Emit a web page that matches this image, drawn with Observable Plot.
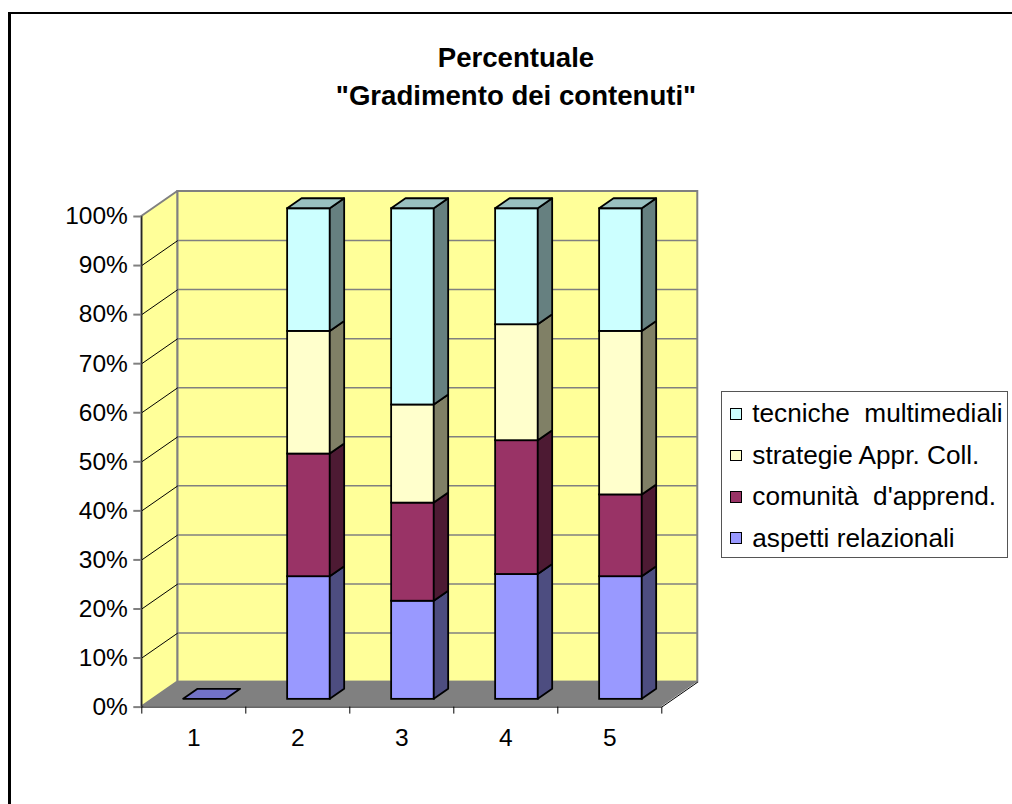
<!DOCTYPE html>
<html>
<head>
<meta charset="utf-8">
<script src="https://cdn.jsdelivr.net/npm/d3@7"></script>
<script src="https://cdn.jsdelivr.net/npm/@observablehq/plot@0.6"></script>
<style>
html, body { margin: 0; padding: 0; background: #fff; overflow: hidden; width: 1012px; height: 804px; }
#page { position: relative; width: 1012px; height: 804px; font-family: "Liberation Sans", Arial, sans-serif; color: #000; }
#border { position: absolute; left: 8px; top: 12px; width: 1200px; height: 1000px; border-left: 3px solid #000; border-top: 2px solid #000; }
#title { position: absolute; left: 216px; width: 600px; top: 38.5px; text-align: center; font-weight: bold; font-size: 27.6px; line-height: 38px; }
#chart { position: absolute; left: 0; top: 130px; }
#legend { position: absolute; left: 721px; top: 390.7px; width: 286.7px; height: 167.6px; box-sizing: border-box; border: 1.5px solid #555; background: #fff; padding-top: 1.6px; }
#legend .row { display: flex; align-items: center; height: 41.4px; font-size: 26.2px; white-space: pre; }
#legend .sw { width: 9.6px; height: 9.6px; border: 1.5px solid #000; margin-left: 8.2px; margin-right: 10.5px; flex: none; }
</style>
</head>
<body>
<div id="page">
  <div id="border"></div>
  <div id="title">Percentuale<br>"Gradimento dei contenuti"</div>
  <div id="chart"></div>
  <div id="legend"></div>
</div>
<script>
// ---- data ----
const categories = ["1", "2", "3", "4", "5"];
const seriesNames = ["aspetti relazionali", "comunità  d'apprend.", "strategie Appr. Coll.", "tecniche  multimediali"];
const aspetti   = [0, 25, 20, 25.45, 25];
const comunita  = [0, 25, 20, 27.27, 16.67];
const strategie = [0, 25, 20, 23.64, 33.33];
const tecniche  = [0, 25, 40, 23.64, 25];
const yTicks = [0, 10, 20, 30, 40, 50, 60, 70, 80, 90, 100];

// ---- styles ----
const frontColors = ["#9999FF", "#993366", "#FFFFCC", "#CCFFFF"];
const sideColors  = ["#4D4D80", "#4D1A33", "#808066", "#668080"];
const topColors   = ["#7373C8", "#732650", "#BFBF99", "#99C0C0"];
const wallColor = "#FFFF99", floorColor = "#808080", edgeGray = "#808080";

// 3D oblique projection (in data units for one full depth) and bar geometry
const NX = categories.length, YMAX = 100;
const KX = 0.346, KY = 5.096;
const ZF = 0.31, ZB = 0.71;
const BX0 = 0.295, BX1 = 0.705;

const values = [aspetti, comunita, strategie, tecniche];
const segs = [];
categories.forEach((c, i) => {
  let acc = 0;
  values.forEach((v, s) => {
    segs.push({i, s, y0: acc, y1: acc + v[i], v: v[i]});
    acc += v[i];
  });
});
const visible = segs.filter(d => d.v > 0);

const sidePts = visible.flatMap(d => [ZF, ZB].map(z => ({
  id: d.i + "-" + d.s, s: d.s,
  x: d.i + BX1 + KX * z, y1: d.y0 + KY * z, y2: d.y1 + KY * z
})));

const topPts = categories.flatMap((c, i) => {
  const own = segs.filter(d => d.i === i);
  const pos = own.filter(d => d.v > 0);
  const t = pos.length ? pos[pos.length - 1] : own[0];
  return [ZF, ZB].map(z => ({
    id: "t" + i, s: t.s,
    y: t.y1 + KY * z, x1: t.i + BX0 + KX * z, x2: t.i + BX1 + KX * z
  }));
});

const inner = yTicks.filter(t => t > 0 && t < YMAX);

const chart = Plot.plot({
  width: 1012,
  height: 674,
  marginLeft: 141.3,
  marginRight: 350.7,
  marginTop: 86,
  marginBottom: 97.4,
  x: {domain: [0, NX]},
  y: {domain: [0, YMAX]},
  color: {type: "identity"},
  style: {fontFamily: '"Liberation Sans", Arial, sans-serif', fontSize: "24.5px", background: "transparent", overflow: "visible", color: "#000"},
  marks: [
    // back wall
    Plot.rect([0], {x1: () => KX, x2: () => NX + KX, y1: () => KY, y2: () => YMAX + KY, fill: wallColor, stroke: edgeGray, strokeWidth: 2}),
    // side wall
    Plot.areaY([{x: 0, y1: 0, y2: YMAX}, {x: KX, y1: KY, y2: YMAX + KY}], {x: "x", y1: "y1", y2: "y2", fill: wallColor, stroke: edgeGray, strokeWidth: 2}),
    // floor
    Plot.areaX([{y: 0, x1: 0, x2: NX}, {y: KY, x1: KX, x2: NX + KX}], {y: "y", x1: "x1", x2: "x2", fill: floorColor}),
    Plot.link([0], {x1: () => NX, y1: () => 0, x2: () => NX + KX, y2: () => KY, stroke: "#000", strokeWidth: 1}),
    // gridlines
    Plot.ruleY(inner, {y: d => d + KY, x1: () => KX, x2: () => NX + KX, stroke: edgeGray, strokeWidth: 1.5}),
    Plot.link(inner, {x1: () => 0, y1: d => d, x2: () => KX, y2: d => d + KY, stroke: "#000", strokeWidth: 1}),
    // axis lines
    Plot.ruleX([0], {y1: () => 0, y2: () => YMAX, stroke: "#000", strokeWidth: 1}),
    Plot.ruleY([0], {x1: () => 0, x2: () => NX, stroke: "#000", strokeWidth: 1}),
    // bars: front faces
    Plot.rect(visible, {
      x1: d => d.i + BX0 + KX * ZF, x2: d => d.i + BX1 + KX * ZF,
      y1: d => d.y0 + KY * ZF, y2: d => d.y1 + KY * ZF,
      fill: d => frontColors[d.s], stroke: "#000", strokeWidth: 1.8
    }),
    // bars: side faces
    Plot.areaY(sidePts, {x: "x", y1: "y1", y2: "y2", z: "id", fill: d => sideColors[d.s], stroke: "#000", strokeWidth: 1.8, strokeLinejoin: "round"}),
    // bars: top faces
    Plot.areaX(topPts, {y: "y", x1: "x1", x2: "x2", z: "id", fill: d => topColors[d.s], stroke: "#000", strokeWidth: 1.8, strokeLinejoin: "round"}),
    // axes
    Plot.axisY({ticks: yTicks, tickSize: 8, tickPadding: 6, tickFormat: d => d + "%", stroke: edgeGray, fill: "#000", strokeWidth: 2, fontSize: 24.5, label: null}),
    Plot.axisX({ticks: d3.range(NX + 1), tickSize: 7, tickFormat: () => "", stroke: "#000", label: null}),
    Plot.axisX({ticks: categories.map((c, i) => i + 0.5), tickSize: 0, tickPadding: 21, tickFormat: v => categories[Math.floor(v)], fill: "#000", fontSize: 24.5, label: null})
  ]
});
document.getElementById("chart").appendChild(chart);

// legend (top series first, as in the reference)
const legend = d3.select("#legend");
seriesNames.map((n, s) => ({n, s})).reverse().forEach(({n, s}) => {
  const row = legend.append("div").attr("class", "row");
  row.append("div").attr("class", "sw").style("background", frontColors[s]);
  row.append("span").text(n);
});
</script>
</body>
</html>
